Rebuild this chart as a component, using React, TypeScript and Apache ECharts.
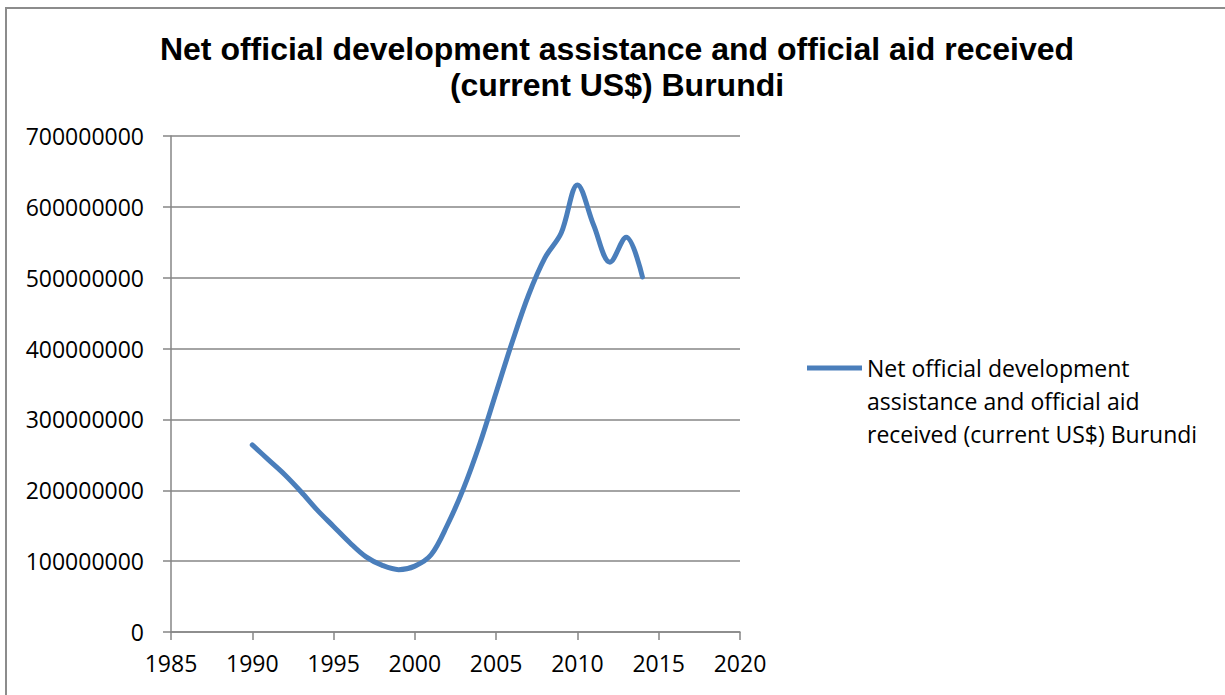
import React, { useEffect, useRef } from "react";
import * as echarts from "echarts";

const TITLE = "Net official development assistance and official aid received\n(current US$) Burundi";
const SERIES_NAME = "Net official development assistance and official aid received (current US$) Burundi";
const LEGEND_LINES = ["Net official development", "assistance and official aid", "received (current US$) Burundi"];

const years = [1990, 1991, 1992, 1993, 1994, 1995, 1996, 1997, 1998, 1999, 2000, 2001, 2002, 2003, 2004, 2005, 2006, 2007, 2008, 2009, 2010, 2011, 2012, 2013, 2014];
const values = [264e6, 243e6, 222e6, 198e6, 172e6, 149e6, 126e6, 106e6, 94e6, 88e6, 93e6, 109e6, 151e6, 203e6, 266e6, 338e6, 410e6, 476e6, 528e6, 563e6, 631e6, 574e6, 522e6, 557e6, 501e6];

const X_MIN = 1985;
const X_MAX = 2020;
const X_STEP = 5;
const Y_MIN = 0;
const Y_MAX = 700000000;
const Y_STEP = 100000000;

const LABEL_FONT = "'Open Sans', 'Noto Sans', sans-serif";
const LEGEND_X = 807;
const LEGEND_Y = 368;
const LEGEND_LINE_H = 33;

export default function App() {
  const ref = useRef<HTMLDivElement>(null);
  useEffect(() => {
    if (!ref.current) return;
    const chart = echarts.init(ref.current, null, { renderer: "svg" });
    chart.setOption({
      animation: false,
      backgroundColor: "#ffffff",
      title: {
        text: TITLE,
        left: 612,
        top: 26,
        textAlign: "center",
        textStyle: {
          fontFamily: "'Liberation Sans', Arial, sans-serif",
          fontWeight: "bold",
          fontSize: 32,
          lineHeight: 36,
          color: "#000000",
        },
      },
      legend: {
        left: LEGEND_X,
        top: LEGEND_Y - LEGEND_LINE_H / 2,
        padding: 0,
        icon: "rect",
        itemWidth: 55,
        itemHeight: 5,
        itemGap: 0,
        data: [{ name: SERIES_NAME, itemStyle: { color: "#4a7ebb" } }],
        formatter: () => LEGEND_LINES[0],
        textStyle: {
          fontFamily: LABEL_FONT,
          fontSize: 23,
          lineHeight: LEGEND_LINE_H,
          color: "#000000",
        },
      },
      grid: { left: 171, right: 485, top: 136, bottom: 63, containLabel: false },
      xAxis: {
        type: "value",
        min: X_MIN,
        max: X_MAX,
        interval: X_STEP,
        splitLine: { show: false },
        axisLine: { show: true, onZero: false, lineStyle: { color: "#868686", width: 1.5 } },
        axisTick: { show: true, length: 8, lineStyle: { color: "#868686", width: 1.5 } },
        axisLabel: {
          fontFamily: LABEL_FONT,
          fontSize: 23,
          color: "#000000",
          margin: 19,
          formatter: (v: number) => String(Math.round(v)),
        },
      },
      yAxis: {
        type: "value",
        min: Y_MIN,
        max: Y_MAX,
        interval: Y_STEP,
        splitLine: { show: true, lineStyle: { color: "#868686", width: 1.5 } },
        axisLine: { show: true, lineStyle: { color: "#868686", width: 1.5 } },
        axisTick: { show: true, length: 8, lineStyle: { color: "#868686", width: 1.5 } },
        axisLabel: {
          fontFamily: LABEL_FONT,
          fontSize: 23,
          color: "#000000",
          margin: 27,
          formatter: (v: number) => String(Math.round(v)),
        },
      },
      graphic: [
        {
          type: "rect",
          shape: { x: 6, y: 8, width: 1240, height: 720 },
          style: { fill: "none", stroke: "#8c8c8c", lineWidth: 2 },
          silent: true,
        },
        ...LEGEND_LINES.slice(1).map((t, i) => ({
          type: "text",
          x: LEGEND_X + 60,
          y: LEGEND_Y + LEGEND_LINE_H * (i + 1),
          style: {
            text: t,
            font: `23px ${LABEL_FONT}`,
            fill: "#000000",
            verticalAlign: "middle",
            align: "left",
          },
          silent: true,
        })),
      ],
      series: [
        {
          name: SERIES_NAME,
          type: "line",
          data: years.map((y, i) => [y, values[i]]),
          smooth: 0.35,
          showSymbol: false,
          symbol: "none",
          lineStyle: { color: "#4a7ebb", width: 5, cap: "round", join: "round" },
          itemStyle: { color: "#4a7ebb" },
        },
      ],
    });
    return () => chart.dispose();
  }, []);
  return <div ref={ref} style={{ width: 1225, height: 695, position: "absolute", left: 0, top: 0 }} />;
}
